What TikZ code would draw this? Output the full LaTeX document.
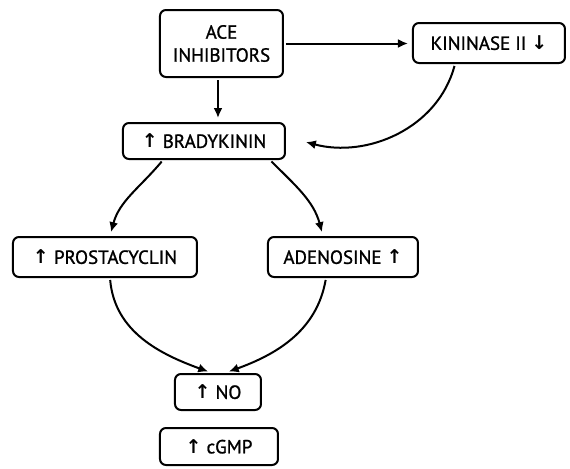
\documentclass[tikz,border=0pt]{standalone}
\usepackage{fontspec}
\setmainfont{PT Sans}[AutoFakeBold=1.2]
\newfontfamily\arrfont{DejaVu Sans}
\usetikzlibrary{arrows.meta}
\newcommand{\arrup}{{\arrfont\char"2191}}
\newcommand{\arrdown}{{\arrfont\char"2193}}

\begin{document}
\begin{tikzpicture}[x=0.5pt, y=0.5pt, font=\fontsize{9.5}{11.5}\selectfont\bfseries,
  box/.style={rectangle, rounded corners=3pt, draw, line width=1pt, inner sep=0pt, align=center},
  flow/.style={-{Latex[length=5pt,width=4.5pt]}, line width=1pt, shorten >=2pt, shorten <=1pt}]
\useasboundingbox (0,0) rectangle (570,-468);

\node (ace) [box, minimum width=61.5pt, minimum height=33.5pt] at (221.5,-43.5) {ACE\\INHIBITORS};
\node (kininase) [box, minimum width=76pt, minimum height=20pt] at (489,-43) {KININASE II \arrdown};
\node (brady) [box, minimum width=81pt, minimum height=18pt] at (204,-141) {\arrup\ BRADYKININ};
\node (prosta) [box, minimum width=92pt, minimum height=20pt] at (105,-257) {\arrup\ PROSTACYCLIN};
\node (adeno) [box, minimum width=75pt, minimum height=20pt] at (343,-257) {ADENOSINE \arrup};
\node (no) [box, minimum width=43pt, minimum height=18pt] at (218,-392) {\arrup\ NO};
\node (cgmp) [box, minimum width=59pt, minimum height=18.5pt] at (219,-446.5) {\arrup\ cGMP};

\draw[flow] (ace.east) -- (ace.east -| kininase.west);
\draw[flow] ([xshift=-1.75pt]ace.south) -- ([xshift=-1.75pt]ace.south |- brady.north);
\draw[flow] ([xshift=-17pt]kininase.south) to[out=-105, in=-15] ([xshift=8pt]brady.east);
\draw[flow] ([xshift=-20.5pt]brady.south) to[out=-130, in=75] ([xshift=2.5pt]prosta.north);
\draw[flow] ([xshift=33pt]brady.south) to[out=-45, in=105] ([xshift=-10pt]adeno.north);
\draw[flow] ([xshift=2.5pt]prosta.south) to[out=-85, in=160] ([xshift=-3pt]no.north);
\draw[flow] ([xshift=-8.5pt]adeno.south) to[out=-100, in=20] ([xshift=3.5pt]no.north);
\end{tikzpicture}
\end{document}
